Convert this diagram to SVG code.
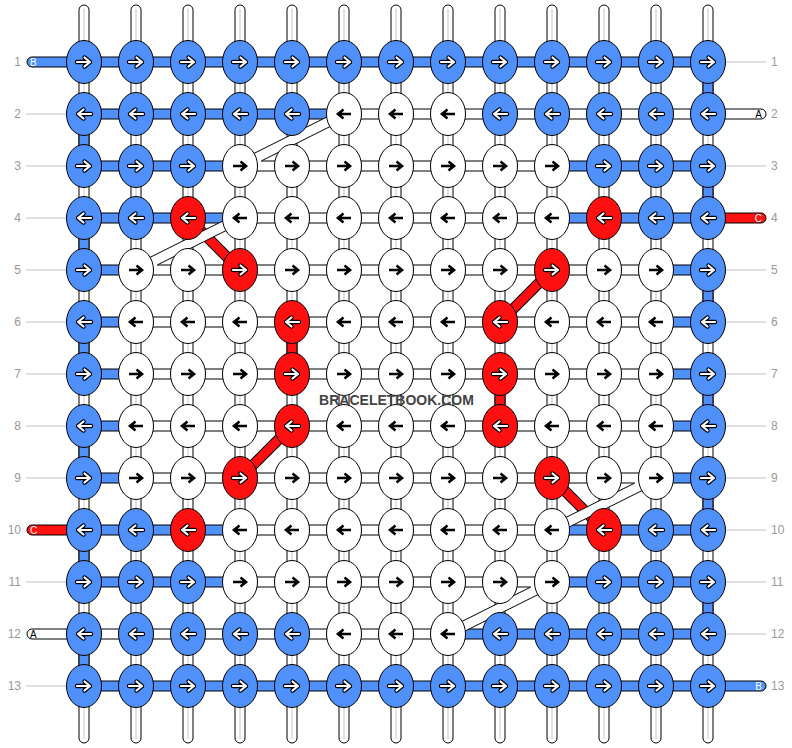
<svg xmlns="http://www.w3.org/2000/svg" width="792" height="748" viewBox="0 0 792 748">
<style>
.vt{fill:#fff;stroke:#000;stroke-width:1}
.vc{stroke:#c4c4c4;stroke-width:1;fill:none}
.b{fill:#5090fa;stroke:#000;stroke-width:1}
.w{fill:#fff;stroke:#000;stroke-width:1}
.r{fill:#ff1010;stroke:#000;stroke-width:1}
.gl{stroke:#c0c0c0;stroke-width:1}
.num{font-family:"Liberation Sans",Arial,sans-serif;font-size:12px;fill:#999}
.stl{font-family:"Liberation Sans",Arial,sans-serif;font-size:10px}
.bf{fill:#fff;stroke:none}
.bl{stroke:#000;stroke-width:1;fill:none}
.rd1{stroke:#000;stroke-width:11}
.rd2{stroke:#ff1010;stroke-width:9}
.wm{font-family:"Liberation Sans",Arial,sans-serif;font-size:14px;font-weight:bold;fill:#444}
</style>
<defs>
<path id="pR" d="M-7,0H5.5M0.5,-4.5L6,0L0.5,4.5"/>
<path id="pL" d="M7,0H-5.5M-0.5,-4.5L-6,0L-0.5,4.5"/>
<g id="kR" fill="none" stroke="#000" stroke-width="2.6"><use href="#pR"/></g>
<g id="kL" fill="none" stroke="#000" stroke-width="2.6"><use href="#pL"/></g>
<g id="wR" fill="none" stroke-linecap="round" stroke-linejoin="round"><use href="#pR" stroke="#000" stroke-width="4.4"/><use href="#pR" stroke="#fff" stroke-width="2.2"/></g>
<g id="wL" fill="none" stroke-linecap="round" stroke-linejoin="round"><use href="#pL" stroke="#000" stroke-width="4.4"/><use href="#pL" stroke="#fff" stroke-width="2.2"/></g>
<g id="NBR"><ellipse class="b" rx="17.5" ry="21.5"/><use href="#wR"/></g>
<g id="NBL"><ellipse class="b" rx="17.5" ry="21.5"/><use href="#wL"/></g>
<g id="NRR"><ellipse class="r" rx="17.5" ry="21.5"/><use href="#wR"/></g>
<g id="NRL"><ellipse class="r" rx="17.5" ry="21.5"/><use href="#wL"/></g>
<g id="NWR"><ellipse class="w" rx="17.5" ry="21.5"/><use href="#kR"/></g>
<g id="NWL"><ellipse class="w" rx="17.5" ry="21.5"/><use href="#kL"/></g>
</defs>
<rect width="792" height="748" fill="#fff"/>
<g id="row-labels">
<line class="gl" x1="26" y1="114" x2="66" y2="114"/><line class="gl" x1="26" y1="166" x2="66" y2="166"/><line class="gl" x1="26" y1="218" x2="66" y2="218"/><line class="gl" x1="26" y1="270" x2="66" y2="270"/><line class="gl" x1="26" y1="322" x2="66" y2="322"/><line class="gl" x1="26" y1="374" x2="66" y2="374"/><line class="gl" x1="26" y1="426" x2="66" y2="426"/><line class="gl" x1="26" y1="478" x2="66" y2="478"/><line class="gl" x1="26" y1="582" x2="66" y2="582"/><line class="gl" x1="26" y1="686" x2="66" y2="686"/>
<line class="gl" x1="726" y1="62" x2="766" y2="62"/><line class="gl" x1="726" y1="166" x2="766" y2="166"/><line class="gl" x1="726" y1="270" x2="766" y2="270"/><line class="gl" x1="726" y1="322" x2="766" y2="322"/><line class="gl" x1="726" y1="374" x2="766" y2="374"/><line class="gl" x1="726" y1="426" x2="766" y2="426"/><line class="gl" x1="726" y1="478" x2="766" y2="478"/><line class="gl" x1="726" y1="530" x2="766" y2="530"/><line class="gl" x1="726" y1="582" x2="766" y2="582"/><line class="gl" x1="726" y1="634" x2="766" y2="634"/>
<g class="num" text-anchor="end">
<text x="21" y="66.3">1</text><text x="21" y="118.3">2</text><text x="21" y="170.3">3</text><text x="21" y="222.3">4</text><text x="21" y="274.3">5</text><text x="21" y="326.3">6</text><text x="21" y="378.3">7</text><text x="21" y="430.3">8</text><text x="21" y="482.3">9</text><text x="21" y="534.3">10</text><text x="21" y="586.3">11</text><text x="21" y="638.3">12</text><text x="21" y="690.3">13</text>
</g>
<g class="num">
<text x="771" y="66.3">1</text><text x="771" y="118.3">2</text><text x="771" y="170.3">3</text><text x="771" y="222.3">4</text><text x="771" y="274.3">5</text><text x="771" y="326.3">6</text><text x="771" y="378.3">7</text><text x="771" y="430.3">8</text><text x="771" y="482.3">9</text><text x="771" y="534.3">10</text><text x="771" y="586.3">11</text><text x="771" y="638.3">12</text><text x="771" y="690.3">13</text>
</g>
</g>
<g id="connectors">
<g id="vertical-threads">
<rect class="vt" x="79" y="5" width="10" height="738" rx="5"/><rect class="vt" x="131" y="5" width="10" height="738" rx="5"/><rect class="vt" x="183" y="5" width="10" height="738" rx="5"/><rect class="vt" x="235" y="5" width="10" height="738" rx="5"/><rect class="vt" x="287" y="5" width="10" height="738" rx="5"/><rect class="vt" x="339" y="5" width="10" height="738" rx="5"/><rect class="vt" x="391" y="5" width="10" height="738" rx="5"/><rect class="vt" x="443" y="5" width="10" height="738" rx="5"/><rect class="vt" x="495" y="5" width="10" height="738" rx="5"/><rect class="vt" x="547" y="5" width="10" height="738" rx="5"/><rect class="vt" x="599" y="5" width="10" height="738" rx="5"/><rect class="vt" x="651" y="5" width="10" height="738" rx="5"/><rect class="vt" x="703" y="5" width="10" height="738" rx="5"/>
<path class="vc" d="M84,9V739M136,9V739M188,9V739M240,9V739M292,9V739M344,9V739M396,9V739M448,9V739M500,9V739M552,9V739M604,9V739M656,9V739M708,9V739"/>
</g>
<g id="turns">
<rect class="b" x="79" y="114" width="10" height="52"/><rect class="b" x="79" y="218" width="10" height="52"/><rect class="b" x="79" y="322" width="10" height="52"/><rect class="b" x="79" y="426" width="10" height="52"/><rect class="b" x="79" y="530" width="10" height="52"/><rect class="b" x="79" y="634" width="10" height="52"/>
<rect class="b" x="703" y="62" width="10" height="52"/><rect class="b" x="703" y="166" width="10" height="52"/><rect class="b" x="703" y="270" width="10" height="52"/><rect class="b" x="703" y="374" width="10" height="52"/><rect class="b" x="703" y="478" width="10" height="52"/><rect class="b" x="703" y="582" width="10" height="52"/>
<rect class="r" x="287" y="322" width="10" height="52"/><rect class="r" x="495" y="374" width="10" height="52"/>
</g>
<g id="red-diagonals">
<path class="rd1" d="M188,218L240,270M292,426L240,478M552,270L500,322M552,478L604,530"/>
<path class="rd2" d="M188,218L240,270M292,426L240,478M552,270L500,322M552,478L604,530"/>
</g>
<g id="rows">
<rect class="b" x="27" y="57" width="681" height="10" rx="5"/>
<rect class="b" x="84" y="109" width="260" height="10"/><rect class="w" x="344" y="109" width="422" height="10" rx="5"/>
<rect class="b" x="84" y="161" width="156" height="10"/><rect class="w" x="240" y="161" width="312" height="10"/><rect class="b" x="552" y="161" width="156" height="10"/>
<rect class="r" x="700" y="213" width="66" height="10" rx="5"/><rect class="b" x="84" y="213" width="156" height="10"/><rect class="w" x="240" y="213" width="312" height="10"/><rect class="b" x="552" y="213" width="156" height="10"/>
<rect class="b" x="84" y="265" width="52" height="10"/><rect class="w" x="136" y="265" width="520" height="10"/><rect class="b" x="656" y="265" width="52" height="10"/>
<rect class="b" x="84" y="317" width="52" height="10"/><rect class="w" x="136" y="317" width="520" height="10"/><rect class="b" x="656" y="317" width="52" height="10"/>
<rect class="b" x="84" y="369" width="52" height="10"/><rect class="w" x="136" y="369" width="520" height="10"/><rect class="b" x="656" y="369" width="52" height="10"/>
<rect class="b" x="84" y="421" width="52" height="10"/><rect class="w" x="136" y="421" width="520" height="10"/><rect class="b" x="656" y="421" width="52" height="10"/>
<rect class="b" x="84" y="473" width="52" height="10"/><rect class="w" x="136" y="473" width="520" height="10"/><rect class="b" x="656" y="473" width="52" height="10"/>
<rect class="r" x="27" y="525" width="65" height="10" rx="5"/><rect class="b" x="84" y="525" width="156" height="10"/><rect class="w" x="240" y="525" width="312" height="10"/><rect class="b" x="552" y="525" width="156" height="10"/>
<rect class="b" x="84" y="577" width="156" height="10"/><rect class="w" x="240" y="577" width="312" height="10"/><rect class="b" x="552" y="577" width="156" height="10"/>
<rect class="w" x="27" y="629" width="421" height="10" rx="5"/><rect class="b" x="448" y="629" width="260" height="10"/>
<rect class="b" x="84" y="681" width="682" height="10" rx="5"/>
</g>
<g id="white-diagonals">
<polygon class="bf" points="341.76,109.53 237.76,161.53 240,170 261.18,170 261.18,161 346.24,118.47"/>
<polygon class="bf" points="237.76,213.53 133.76,265.53 136,274 157.18,274 157.18,265 242.24,222.47"/>
<polygon class="bf" points="634.82,483 634.82,474 652,474 658.24,482.47 554.24,534.47 549.76,525.53"/>
<polygon class="bf" points="530.82,587 530.82,578 548,578 554.24,586.47 450.24,638.47 445.76,629.53"/>
<path class="bl" d="M341.76,109.53L237.76,161.53M346.24,118.47L261.18,161M237.76,213.53L133.76,265.53M242.24,222.47L157.18,265M634.82,483L549.76,525.53M658.24,482.47L554.24,534.47M530.82,587L445.76,629.53M554.24,586.47L450.24,638.47"/>
</g>
<g id="thread-ends" class="stl">
<text x="30" y="65.7" fill="#fff">B</text>
<text x="762" y="117.7" fill="#000" text-anchor="end">A</text>
<text x="762" y="221.7" fill="#fff" text-anchor="end">C</text>
<text x="30" y="533.7" fill="#fff">C</text>
<text x="30" y="637.7" fill="#000">A</text>
<text x="762" y="689.7" fill="#fff" text-anchor="end">B</text>
</g>
</g>
<g id="nodes">
<g id="n1-1"><use href="#NBR" x="84" y="62"/></g><g id="n1-2"><use href="#NBR" x="136" y="62"/></g><g id="n1-3"><use href="#NBR" x="188" y="62"/></g><g id="n1-4"><use href="#NBR" x="240" y="62"/></g><g id="n1-5"><use href="#NBR" x="292" y="62"/></g><g id="n1-6"><use href="#NBR" x="344" y="62"/></g><g id="n1-7"><use href="#NBR" x="396" y="62"/></g><g id="n1-8"><use href="#NBR" x="448" y="62"/></g><g id="n1-9"><use href="#NBR" x="500" y="62"/></g><g id="n1-10"><use href="#NBR" x="552" y="62"/></g><g id="n1-11"><use href="#NBR" x="604" y="62"/></g><g id="n1-12"><use href="#NBR" x="656" y="62"/></g><g id="n1-13"><use href="#NBR" x="708" y="62"/></g>
<g id="n2-1"><use href="#NBL" x="84" y="114"/></g><g id="n2-2"><use href="#NBL" x="136" y="114"/></g><g id="n2-3"><use href="#NBL" x="188" y="114"/></g><g id="n2-4"><use href="#NBL" x="240" y="114"/></g><g id="n2-5"><use href="#NBL" x="292" y="114"/></g><g id="n2-6"><use href="#NWL" x="344" y="114"/></g><g id="n2-7"><use href="#NWL" x="396" y="114"/></g><g id="n2-8"><use href="#NWL" x="448" y="114"/></g><g id="n2-9"><use href="#NBL" x="500" y="114"/></g><g id="n2-10"><use href="#NBL" x="552" y="114"/></g><g id="n2-11"><use href="#NBL" x="604" y="114"/></g><g id="n2-12"><use href="#NBL" x="656" y="114"/></g><g id="n2-13"><use href="#NBL" x="708" y="114"/></g>
<g id="n3-1"><use href="#NBR" x="84" y="166"/></g><g id="n3-2"><use href="#NBR" x="136" y="166"/></g><g id="n3-3"><use href="#NBR" x="188" y="166"/></g><g id="n3-4"><use href="#NWR" x="240" y="166"/></g><g id="n3-5"><use href="#NWR" x="292" y="166"/></g><g id="n3-6"><use href="#NWR" x="344" y="166"/></g><g id="n3-7"><use href="#NWR" x="396" y="166"/></g><g id="n3-8"><use href="#NWR" x="448" y="166"/></g><g id="n3-9"><use href="#NWR" x="500" y="166"/></g><g id="n3-10"><use href="#NWR" x="552" y="166"/></g><g id="n3-11"><use href="#NBR" x="604" y="166"/></g><g id="n3-12"><use href="#NBR" x="656" y="166"/></g><g id="n3-13"><use href="#NBR" x="708" y="166"/></g>
<g id="n4-1"><use href="#NBL" x="84" y="218"/></g><g id="n4-2"><use href="#NBL" x="136" y="218"/></g><g id="n4-3"><use href="#NRL" x="188" y="218"/></g><g id="n4-4"><use href="#NWL" x="240" y="218"/></g><g id="n4-5"><use href="#NWL" x="292" y="218"/></g><g id="n4-6"><use href="#NWL" x="344" y="218"/></g><g id="n4-7"><use href="#NWL" x="396" y="218"/></g><g id="n4-8"><use href="#NWL" x="448" y="218"/></g><g id="n4-9"><use href="#NWL" x="500" y="218"/></g><g id="n4-10"><use href="#NWL" x="552" y="218"/></g><g id="n4-11"><use href="#NRL" x="604" y="218"/></g><g id="n4-12"><use href="#NBL" x="656" y="218"/></g><g id="n4-13"><use href="#NBL" x="708" y="218"/></g>
<g id="n5-1"><use href="#NBR" x="84" y="270"/></g><g id="n5-2"><use href="#NWR" x="136" y="270"/></g><g id="n5-3"><use href="#NWR" x="188" y="270"/></g><g id="n5-4"><use href="#NRR" x="240" y="270"/></g><g id="n5-5"><use href="#NWR" x="292" y="270"/></g><g id="n5-6"><use href="#NWR" x="344" y="270"/></g><g id="n5-7"><use href="#NWR" x="396" y="270"/></g><g id="n5-8"><use href="#NWR" x="448" y="270"/></g><g id="n5-9"><use href="#NWR" x="500" y="270"/></g><g id="n5-10"><use href="#NRR" x="552" y="270"/></g><g id="n5-11"><use href="#NWR" x="604" y="270"/></g><g id="n5-12"><use href="#NWR" x="656" y="270"/></g><g id="n5-13"><use href="#NBR" x="708" y="270"/></g>
<g id="n6-1"><use href="#NBL" x="84" y="322"/></g><g id="n6-2"><use href="#NWL" x="136" y="322"/></g><g id="n6-3"><use href="#NWL" x="188" y="322"/></g><g id="n6-4"><use href="#NWL" x="240" y="322"/></g><g id="n6-5"><use href="#NRL" x="292" y="322"/></g><g id="n6-6"><use href="#NWL" x="344" y="322"/></g><g id="n6-7"><use href="#NWL" x="396" y="322"/></g><g id="n6-8"><use href="#NWL" x="448" y="322"/></g><g id="n6-9"><use href="#NRL" x="500" y="322"/></g><g id="n6-10"><use href="#NWL" x="552" y="322"/></g><g id="n6-11"><use href="#NWL" x="604" y="322"/></g><g id="n6-12"><use href="#NWL" x="656" y="322"/></g><g id="n6-13"><use href="#NBL" x="708" y="322"/></g>
<g id="n7-1"><use href="#NBR" x="84" y="374"/></g><g id="n7-2"><use href="#NWR" x="136" y="374"/></g><g id="n7-3"><use href="#NWR" x="188" y="374"/></g><g id="n7-4"><use href="#NWR" x="240" y="374"/></g><g id="n7-5"><use href="#NRR" x="292" y="374"/></g><g id="n7-6"><use href="#NWR" x="344" y="374"/></g><g id="n7-7"><use href="#NWR" x="396" y="374"/></g><g id="n7-8"><use href="#NWR" x="448" y="374"/></g><g id="n7-9"><use href="#NRR" x="500" y="374"/></g><g id="n7-10"><use href="#NWR" x="552" y="374"/></g><g id="n7-11"><use href="#NWR" x="604" y="374"/></g><g id="n7-12"><use href="#NWR" x="656" y="374"/></g><g id="n7-13"><use href="#NBR" x="708" y="374"/></g>
<g id="n8-1"><use href="#NBL" x="84" y="426"/></g><g id="n8-2"><use href="#NWL" x="136" y="426"/></g><g id="n8-3"><use href="#NWL" x="188" y="426"/></g><g id="n8-4"><use href="#NWL" x="240" y="426"/></g><g id="n8-5"><use href="#NRL" x="292" y="426"/></g><g id="n8-6"><use href="#NWL" x="344" y="426"/></g><g id="n8-7"><use href="#NWL" x="396" y="426"/></g><g id="n8-8"><use href="#NWL" x="448" y="426"/></g><g id="n8-9"><use href="#NRL" x="500" y="426"/></g><g id="n8-10"><use href="#NWL" x="552" y="426"/></g><g id="n8-11"><use href="#NWL" x="604" y="426"/></g><g id="n8-12"><use href="#NWL" x="656" y="426"/></g><g id="n8-13"><use href="#NBL" x="708" y="426"/></g>
<g id="n9-1"><use href="#NBR" x="84" y="478"/></g><g id="n9-2"><use href="#NWR" x="136" y="478"/></g><g id="n9-3"><use href="#NWR" x="188" y="478"/></g><g id="n9-4"><use href="#NRR" x="240" y="478"/></g><g id="n9-5"><use href="#NWR" x="292" y="478"/></g><g id="n9-6"><use href="#NWR" x="344" y="478"/></g><g id="n9-7"><use href="#NWR" x="396" y="478"/></g><g id="n9-8"><use href="#NWR" x="448" y="478"/></g><g id="n9-9"><use href="#NWR" x="500" y="478"/></g><g id="n9-10"><use href="#NRR" x="552" y="478"/></g><g id="n9-11"><use href="#NWR" x="604" y="478"/></g><g id="n9-12"><use href="#NWR" x="656" y="478"/></g><g id="n9-13"><use href="#NBR" x="708" y="478"/></g>
<g id="n10-1"><use href="#NBL" x="84" y="530"/></g><g id="n10-2"><use href="#NBL" x="136" y="530"/></g><g id="n10-3"><use href="#NRL" x="188" y="530"/></g><g id="n10-4"><use href="#NWL" x="240" y="530"/></g><g id="n10-5"><use href="#NWL" x="292" y="530"/></g><g id="n10-6"><use href="#NWL" x="344" y="530"/></g><g id="n10-7"><use href="#NWL" x="396" y="530"/></g><g id="n10-8"><use href="#NWL" x="448" y="530"/></g><g id="n10-9"><use href="#NWL" x="500" y="530"/></g><g id="n10-10"><use href="#NWL" x="552" y="530"/></g><g id="n10-11"><use href="#NRL" x="604" y="530"/></g><g id="n10-12"><use href="#NBL" x="656" y="530"/></g><g id="n10-13"><use href="#NBL" x="708" y="530"/></g>
<g id="n11-1"><use href="#NBR" x="84" y="582"/></g><g id="n11-2"><use href="#NBR" x="136" y="582"/></g><g id="n11-3"><use href="#NBR" x="188" y="582"/></g><g id="n11-4"><use href="#NWR" x="240" y="582"/></g><g id="n11-5"><use href="#NWR" x="292" y="582"/></g><g id="n11-6"><use href="#NWR" x="344" y="582"/></g><g id="n11-7"><use href="#NWR" x="396" y="582"/></g><g id="n11-8"><use href="#NWR" x="448" y="582"/></g><g id="n11-9"><use href="#NWR" x="500" y="582"/></g><g id="n11-10"><use href="#NWR" x="552" y="582"/></g><g id="n11-11"><use href="#NBR" x="604" y="582"/></g><g id="n11-12"><use href="#NBR" x="656" y="582"/></g><g id="n11-13"><use href="#NBR" x="708" y="582"/></g>
<g id="n12-1"><use href="#NBL" x="84" y="634"/></g><g id="n12-2"><use href="#NBL" x="136" y="634"/></g><g id="n12-3"><use href="#NBL" x="188" y="634"/></g><g id="n12-4"><use href="#NBL" x="240" y="634"/></g><g id="n12-5"><use href="#NBL" x="292" y="634"/></g><g id="n12-6"><use href="#NWL" x="344" y="634"/></g><g id="n12-7"><use href="#NWL" x="396" y="634"/></g><g id="n12-8"><use href="#NWL" x="448" y="634"/></g><g id="n12-9"><use href="#NBL" x="500" y="634"/></g><g id="n12-10"><use href="#NBL" x="552" y="634"/></g><g id="n12-11"><use href="#NBL" x="604" y="634"/></g><g id="n12-12"><use href="#NBL" x="656" y="634"/></g><g id="n12-13"><use href="#NBL" x="708" y="634"/></g>
<g id="n13-1"><use href="#NBR" x="84" y="686"/></g><g id="n13-2"><use href="#NBR" x="136" y="686"/></g><g id="n13-3"><use href="#NBR" x="188" y="686"/></g><g id="n13-4"><use href="#NBR" x="240" y="686"/></g><g id="n13-5"><use href="#NBR" x="292" y="686"/></g><g id="n13-6"><use href="#NBR" x="344" y="686"/></g><g id="n13-7"><use href="#NBR" x="396" y="686"/></g><g id="n13-8"><use href="#NBR" x="448" y="686"/></g><g id="n13-9"><use href="#NBR" x="500" y="686"/></g><g id="n13-10"><use href="#NBR" x="552" y="686"/></g><g id="n13-11"><use href="#NBR" x="604" y="686"/></g><g id="n13-12"><use href="#NBR" x="656" y="686"/></g><g id="n13-13"><use href="#NBR" x="708" y="686"/></g>
</g>
<text class="wm" x="396.5" y="405" text-anchor="middle">BRACELETBOOK.COM</text>
</svg>
